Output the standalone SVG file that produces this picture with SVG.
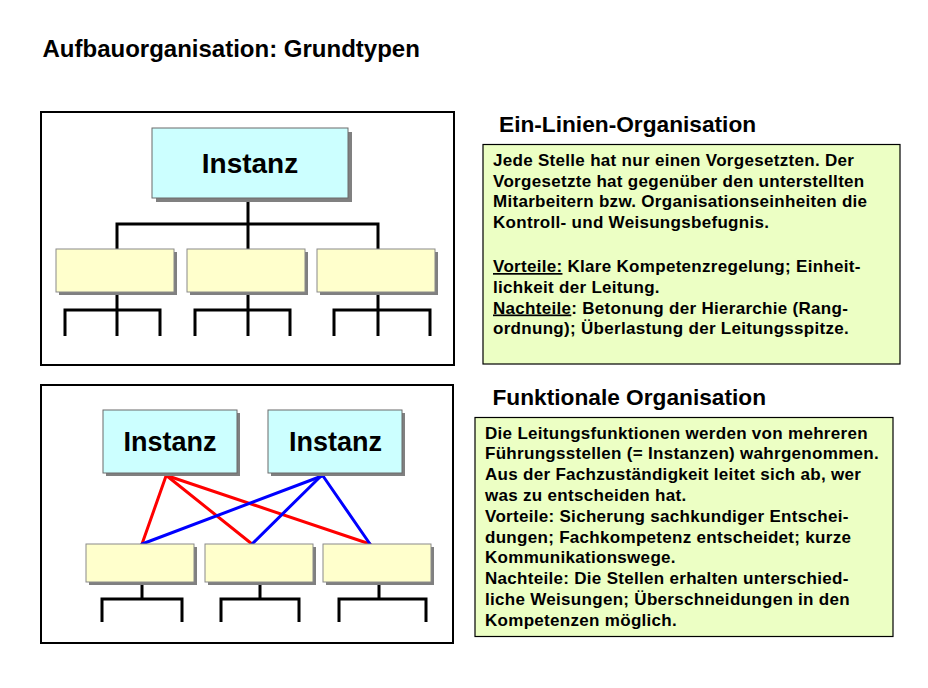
<svg xmlns="http://www.w3.org/2000/svg" width="928" height="688" viewBox="0 0 928 688">
<defs>
<style>
text{font-family:"Liberation Sans",Arial,sans-serif;font-weight:bold;fill:#000}
.frame{fill:#fff;stroke:#000;stroke-width:2}
.shadow{fill:#808080}
.inst{fill:#ccffff;stroke:#6b6b6b;stroke-width:1}
.unit{fill:#ffffcc;stroke:#8a8a8a;stroke-width:1}
.note{fill:#ecffc4;stroke:#000;stroke-width:1.2}
.tree{fill:none;stroke:#000;stroke-width:3}
.red{stroke:#ff0000;stroke-width:3}
.blue{stroke:#0000ff;stroke-width:3}
.it{font-size:27px;text-anchor:middle}
.h2{font-size:22.7px}
.body{font-size:17px;letter-spacing:0.3px}
.u{text-decoration:underline}
</style>
</defs>
<rect width="928" height="688" fill="#fff"/>
<text x="42.5" y="56.5" style="font-size:24px">Aufbauorganisation: Grundtypen</text>

<g id="frame-top"><rect class="frame" x="41" y="112" width="413" height="253"/></g>
<g id="frame-bottom"><rect class="frame" x="41" y="385" width="412" height="258"/></g>

<g id="connectors">
<path class="tree" d="M248 198V224M117 224H378M117 222.5V249M248 224V249M378 222.5V249"/>
<path class="tree" d="M117 292V336M65 336V310H160V336M248 292V336M195 336V310H290V336M378 292V336M334 336V310H430V336"/>
<path class="tree" d="M142 582V599M102 622V599H182V622M260 582V599M221 622V599H299V622M379 582V599M339 622V599H426V622"/>
<g fill="none" stroke-linecap="round">
<line class="red" x1="166" y1="476" x2="142" y2="544"/>
<line class="red" x1="167" y1="476" x2="252" y2="544"/>
<line class="red" x1="168" y1="476" x2="370" y2="544"/>
<line class="blue" x1="322" y1="476" x2="142" y2="544"/>
<line class="blue" x1="321" y1="476" x2="252" y2="544"/>
<line class="blue" x1="323" y1="476" x2="370" y2="544"/>
</g>
</g>

<g id="instanz-top">
<rect class="shadow" x="156" y="132" width="196" height="70"/>
<rect class="inst" x="152" y="128" width="196" height="70"/>
<text class="it" x="250" y="172.5" style="font-size:28px">Instanz</text>
</g>
<g id="stelle-1"><rect class="shadow" x="59" y="252" width="118" height="43"/><rect class="unit" x="56" y="249" width="118" height="43"/></g>
<g id="stelle-2"><rect class="shadow" x="190" y="252" width="118" height="43"/><rect class="unit" x="187" y="249" width="118" height="43"/></g>
<g id="stelle-3"><rect class="shadow" x="320" y="252" width="118" height="43"/><rect class="unit" x="317" y="249" width="118" height="43"/></g>

<g id="instanz-a">
<rect class="shadow" x="106" y="413" width="134" height="63"/>
<rect class="inst" x="103" y="410" width="134" height="63"/>
<text class="it" x="170" y="451">Instanz</text>
</g>
<g id="instanz-b">
<rect class="shadow" x="271" y="413" width="134" height="63"/>
<rect class="inst" x="268" y="410" width="134" height="63"/>
<text class="it" x="335.5" y="451">Instanz</text>
</g>
<g id="fstelle-1"><rect class="shadow" x="89" y="547" width="108" height="38"/><rect class="unit" x="86" y="544" width="108" height="38"/></g>
<g id="fstelle-2"><rect class="shadow" x="208" y="547" width="108" height="38"/><rect class="unit" x="205" y="544" width="108" height="38"/></g>
<g id="fstelle-3"><rect class="shadow" x="326" y="547" width="108" height="38"/><rect class="unit" x="323" y="544" width="108" height="38"/></g>

<g id="ein-linien">
<text class="h2" x="499" y="132">Ein-Linien-Organisation</text>
<rect class="note" x="483" y="144.5" width="417" height="219.5"/>
<text class="body">
<tspan x="493" y="166">Jede Stelle hat nur einen Vorgesetzten. Der</tspan>
<tspan x="493" y="186.5">Vorgesetzte hat gegenüber den unterstellten</tspan>
<tspan x="493" y="207">Mitarbeitern bzw. Organisationseinheiten die</tspan>
<tspan x="493" y="228">Kontroll- und Weisungsbefugnis.</tspan>
<tspan x="493" y="272"><tspan class="u">Vorteile:</tspan> Klare Kompetenzregelung; Einheit-</tspan>
<tspan x="493" y="293">lichkeit der Leitung.</tspan>
<tspan x="493" y="313.5"><tspan class="u">Nachteile</tspan>: Betonung der Hierarchie (Rang-</tspan>
<tspan x="493" y="334">ordnung); Überlastung der Leitungsspitze.</tspan>
</text>
</g>

<g id="funktionale">
<text class="h2" x="492.5" y="405">Funktionale Organisation</text>
<rect class="note" x="475" y="417.5" width="418" height="219"/>
<text class="body">
<tspan x="485" y="438.5">Die Leitungsfunktionen werden von mehreren</tspan>
<tspan x="485" y="459">Führungsstellen (= Instanzen) wahrgenommen.</tspan>
<tspan x="485" y="480">Aus der Fachzuständigkeit leitet sich ab, wer</tspan>
<tspan x="485" y="501">was zu entscheiden hat.</tspan>
<tspan x="485" y="521.5">Vorteile: Sicherung sachkundiger Entschei-</tspan>
<tspan x="485" y="542.5">dungen; Fachkompetenz entscheidet; kurze</tspan>
<tspan x="485" y="563">Kommunikationswege.</tspan>
<tspan x="485" y="584">Nachteile: Die Stellen erhalten unterschied-</tspan>
<tspan x="485" y="605">liche Weisungen; Überschneidungen in den</tspan>
<tspan x="485" y="625.5">Kompetenzen möglich.</tspan>
</text>
</g>
</svg>
